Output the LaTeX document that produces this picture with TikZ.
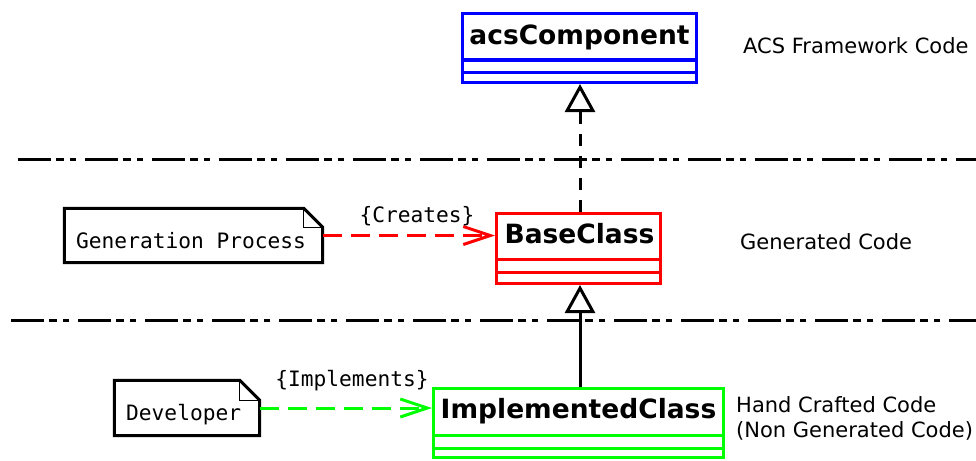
\documentclass[tikz,border=0pt]{standalone}
\usepackage{fontspec}
\setmainfont{DejaVu Sans}
\setmonofont{DejaVu Sans Mono}
\usetikzlibrary{arrows.meta}
\definecolor{pblue}{RGB}{0,0,255}
\definecolor{pred}{RGB}{255,0,0}
\definecolor{pgreen}{RGB}{0,255,0}
\begin{document}
\begin{tikzpicture}[x=1pt,y=-1pt,
  classbox/.style={draw=#1, line width=3pt, inner sep=0pt},
  divider/.style={draw=#1, line width=3pt},
  classname/.style={font=\fontsize{26.5}{31}\selectfont\bfseries, inner sep=0pt, anchor=base},
  sidelabel/.style={font=\fontsize{21}{26}\selectfont, anchor=base west, inner sep=0pt},
  monotext/.style={font=\fontsize{21.2}{25}\selectfont\ttfamily, inner sep=0pt},
  notebox/.style={inner sep=0pt},
  noteline/.style={line width=3pt, line join=miter},
  foldline/.style={line width=1.5pt},
  sepline/.style={line width=3pt, dash pattern=on 33pt off 5pt on 8pt off 6pt on 6pt off 9pt},
  genline/.style={line width=3pt, -{Triangle[open, length=28pt, width=30pt]}},
  depline/.style={line width=3pt, dash pattern=on 19pt off 9pt, -{Straight Barb[length=27pt, width=18pt]}},
]
\useasboundingbox (0,0) rectangle (976,460);

% separators
\coordinate (s1a) at (18,159);
\coordinate (s1b) at (976,159);
\coordinate (s2a) at (11,320);
\coordinate (s2b) at (976,320);
\draw[sepline] (s1a) -- (s1b);
\draw[sepline] (s2a) -- (s2b);

% acsComponent
\node[classbox=pblue, minimum width=234pt, minimum height=69pt] (acs) at (579.5,48) {};
\draw[divider=pblue] ([yshift=24pt]acs.south west) -- ([yshift=24pt]acs.south east);
\draw[divider=pblue] ([yshift=11.5pt]acs.south west) -- ([yshift=11.5pt]acs.south east);
\node[classname] (acst) at (579.5,45) {acsComponent};

% BaseClass
\node[classbox=pred, fill=white, minimum width=164pt, minimum height=70pt] (base) at (578.5,248.5) {};
\draw[divider=pred] ([yshift=25.5pt]base.south west) -- ([yshift=25.5pt]base.south east);
\draw[divider=pred] ([yshift=12.5pt]base.south west) -- ([yshift=12.5pt]base.south east);
\node[classname] (baset) at (579.5,243) {BaseClass};

% ImplementedClass
\node[classbox=pgreen, minimum width=290pt, minimum height=69pt] (impl) at (578.5,423) {};
\draw[divider=pgreen] ([yshift=24pt]impl.south west) -- ([yshift=24pt]impl.south east);
\draw[divider=pgreen] ([yshift=11pt]impl.south west) -- ([yshift=11pt]impl.south east);
\node[classname] (implt) at (578.5,418) {ImplementedClass};

% Generation Process note
\node[notebox, minimum width=258pt, minimum height=54pt] (gp) at (193.5,235.5) {};
\draw[noteline] (gp.north west) -- ([xshift=-19pt]gp.north east) -- ([yshift=-19pt]gp.north east)
  -- (gp.south east) -- (gp.south west) -- cycle;
\draw[foldline] ([xshift=-19pt]gp.north east) -- ([xshift=-19pt,yshift=-19pt]gp.north east) -- ([yshift=-19pt]gp.north east);
\node[monotext, anchor=base west] (gpt) at (76,248) {Generation Process};

% Developer note
\node[notebox, minimum width=145pt, minimum height=55pt] (dev) at (187,408) {};
\draw[noteline] (dev.north west) -- ([xshift=-20pt]dev.north east) -- ([yshift=-20pt]dev.north east)
  -- (dev.south east) -- (dev.south west) -- cycle;
\draw[foldline] ([xshift=-20pt]dev.north east) -- ([xshift=-20pt,yshift=-20pt]dev.north east) -- ([yshift=-20pt]dev.north east);
\node[monotext, anchor=base west] (devt) at (126,420) {Developer};

% generalizations
\draw[genline, dash pattern=on 12pt off 10pt] (base.north -| 580,0) -- (acs.south -| 580,0);
\draw[genline] (impl.north -| 580,0) -- (base.south -| 580,0);

% dependencies
\draw[depline, pred] (gp.east) -- (gp.east -| base.west);
\node[monotext, anchor=base] (crt) at (417,222) {\{Creates\}};
\draw[depline, pgreen] (dev.east) -- (dev.east -| impl.west);
\node[monotext, anchor=base] (imt) at (352,386) {\{Implements\}};

% side labels
\node[sidelabel] (l1) at (743,53) {ACS Framework Code};
\node[sidelabel] (l2) at (740,249) {Generated Code};
\node[sidelabel] (l3) at (736,412) {Hand Crafted Code};
\node[sidelabel] (l4) at (736,437) {(Non Generated Code)};
\end{tikzpicture}
\end{document}
